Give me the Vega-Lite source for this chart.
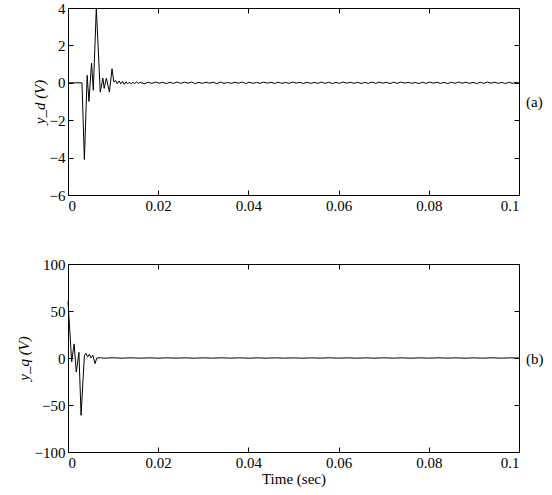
{
  "$schema": "https://vega.github.io/schema/vega-lite/v6.json",
  "background": "white",
  "padding": {"left": 15, "top": 0, "right": 0, "bottom": 0},
  "spacing": 42,
  "config": {
    "font": "Liberation Serif",
    "view": {"stroke": "black", "strokeWidth": 1},
    "axis": {
      "grid": false,
      "domainColor": "black",
      "domainWidth": 1,
      "tickColor": "black",
      "tickWidth": 1,
      "tickSize": -5,
      "labelPadding": 8,
      "labelFont": "Liberation Serif",
      "labelFontSize": 15,
      "labelColor": "black",
      "titleFont": "Liberation Serif",
      "titleFontSize": 15,
      "titleFontWeight": "normal",
      "titleColor": "black"
    }
  },
  "datasets": {
    "d": [
      {"t": 0, "v": 0}, {"t": 0.0031, "v": 0}, {"t": 0.00363, "v": -4.1}, {"t": 0.00425, "v": 0.4},
      {"t": 0.00464, "v": -1.0}, {"t": 0.00522, "v": 1.05}, {"t": 0.00561, "v": -0.4}, {"t": 0.00628, "v": 4.0},
      {"t": 0.00715, "v": -0.5}, {"t": 0.00773, "v": 0.25}, {"t": 0.00802, "v": -0.3}, {"t": 0.00851, "v": 0.25},
      {"t": 0.00918, "v": -0.5}, {"t": 0.00976, "v": 0.75}, {"t": 0.01015, "v": 0.05}, {"t": 0.01054, "v": 0.12},
      {"t": 0.01092, "v": -0.05}, {"t": 0.01131, "v": 0.1}, {"t": 0.0117, "v": -0.06}, {"t": 0.01208, "v": 0.08},
      {"t": 0.01247, "v": -0.08}, {"t": 0.01286, "v": 0.05}, {"t": 0.01324, "v": -0.06}, {"t": 0.01363, "v": 0.04},
      {"t": 0.01402, "v": -0.07}, {"t": 0.0144, "v": 0.03}, {"t": 0.01479, "v": -0.04}, {"t": 0.01518, "v": 0.05},
      {"t": 0.01556, "v": -0.03}, {"t": 0.01595, "v": 0.02},
      {"t": 0.017, "v": -0.05}, {"t": 0.0178, "v": 0.03}, {"t": 0.0186, "v": -0.03}, {"t": 0.0194, "v": 0.04}, {"t": 0.0202, "v": -0.02},
      {"t": 0.021, "v": 0.03}, {"t": 0.0218, "v": -0.04}, {"t": 0.0226, "v": 0.02}, {"t": 0.0234, "v": -0.03}, {"t": 0.0242, "v": 0.04},
      {"t": 0.025, "v": -0.03}, {"t": 0.0258, "v": 0.03}, {"t": 0.0266, "v": -0.02}, {"t": 0.0274, "v": 0.04}, {"t": 0.0282, "v": -0.04},
      {"t": 0.029, "v": 0.02}, {"t": 0.0298, "v": -0.03}, {"t": 0.0306, "v": 0.03}, {"t": 0.0314, "v": -0.02}, {"t": 0.0322, "v": 0.03},
      {"t": 0.033, "v": -0.04}, {"t": 0.0338, "v": 0.04}, {"t": 0.0346, "v": -0.03}, {"t": 0.0354, "v": 0.02}, {"t": 0.0362, "v": -0.03},
      {"t": 0.037, "v": 0.03}, {"t": 0.0378, "v": -0.02}, {"t": 0.0386, "v": 0.04}, {"t": 0.0394, "v": -0.04}, {"t": 0.0402, "v": 0.03},
      {"t": 0.041, "v": -0.03}, {"t": 0.0418, "v": 0.02}, {"t": 0.0426, "v": -0.03}, {"t": 0.0434, "v": 0.04}, {"t": 0.0442, "v": -0.02},
      {"t": 0.045, "v": 0.03}, {"t": 0.0458, "v": -0.04}, {"t": 0.0466, "v": 0.03}, {"t": 0.0474, "v": -0.03}, {"t": 0.0482, "v": 0.02},
      {"t": 0.049, "v": -0.03}, {"t": 0.0498, "v": 0.04}, {"t": 0.0506, "v": -0.02}, {"t": 0.0514, "v": 0.03}, {"t": 0.0522, "v": -0.04},
      {"t": 0.053, "v": 0.03}, {"t": 0.0538, "v": -0.03}, {"t": 0.0546, "v": 0.02}, {"t": 0.0554, "v": -0.03}, {"t": 0.0562, "v": 0.04},
      {"t": 0.057, "v": -0.03}, {"t": 0.0578, "v": 0.03}, {"t": 0.0586, "v": -0.04}, {"t": 0.0594, "v": 0.02}, {"t": 0.0602, "v": -0.03},
      {"t": 0.061, "v": 0.04}, {"t": 0.0618, "v": -0.02}, {"t": 0.0626, "v": 0.03}, {"t": 0.0634, "v": -0.03}, {"t": 0.0642, "v": 0.03},
      {"t": 0.065, "v": -0.04}, {"t": 0.0658, "v": 0.02}, {"t": 0.0666, "v": -0.03}, {"t": 0.0674, "v": 0.04}, {"t": 0.0682, "v": -0.03},
      {"t": 0.069, "v": 0.03}, {"t": 0.0698, "v": -0.02}, {"t": 0.0706, "v": 0.03}, {"t": 0.0714, "v": -0.04}, {"t": 0.0722, "v": 0.03},
      {"t": 0.073, "v": -0.03}, {"t": 0.0738, "v": 0.04}, {"t": 0.0746, "v": -0.02}, {"t": 0.0754, "v": 0.03}, {"t": 0.0762, "v": -0.03},
      {"t": 0.077, "v": 0.02}, {"t": 0.0778, "v": -0.04}, {"t": 0.0786, "v": 0.03}, {"t": 0.0794, "v": -0.03}, {"t": 0.0802, "v": 0.04},
      {"t": 0.081, "v": -0.02}, {"t": 0.0818, "v": 0.03}, {"t": 0.0826, "v": -0.03}, {"t": 0.0834, "v": 0.02}, {"t": 0.0842, "v": -0.04},
      {"t": 0.085, "v": 0.03}, {"t": 0.0858, "v": -0.03}, {"t": 0.0866, "v": 0.04}, {"t": 0.0874, "v": -0.02}, {"t": 0.0882, "v": 0.03},
      {"t": 0.089, "v": -0.03}, {"t": 0.0898, "v": 0.02}, {"t": 0.0906, "v": -0.04}, {"t": 0.0914, "v": 0.03}, {"t": 0.0922, "v": -0.03},
      {"t": 0.093, "v": 0.04}, {"t": 0.0938, "v": -0.02}, {"t": 0.0946, "v": 0.03}, {"t": 0.0954, "v": -0.03}, {"t": 0.0962, "v": 0.02},
      {"t": 0.097, "v": -0.04}, {"t": 0.0978, "v": 0.03}, {"t": 0.0986, "v": -0.03}, {"t": 0.0994, "v": 0.03}, {"t": 0.1, "v": -0.01}
    ],
    "q": [
      {"t": 0, "v": 60}, {"t": 0.00082, "v": -4}, {"t": 0.00135, "v": 15}, {"t": 0.00184, "v": -15},
      {"t": 0.00242, "v": 6}, {"t": 0.0029, "v": -61}, {"t": 0.00363, "v": 2.5}, {"t": 0.00396, "v": 5},
      {"t": 0.00435, "v": 1}, {"t": 0.00474, "v": 4}, {"t": 0.00512, "v": 0}, {"t": 0.00551, "v": 3},
      {"t": 0.006, "v": -6}, {"t": 0.00638, "v": 0}, {"t": 0.00725, "v": 0.3},
      {"t": 0.008, "v": -0.2}, {"t": 0.01, "v": 0.2}, {"t": 0.012, "v": -0.15}, {"t": 0.014, "v": 0.2},
      {"t": 0.016, "v": -0.2}, {"t": 0.018, "v": 0.15}, {"t": 0.02, "v": -0.15}, {"t": 0.022, "v": 0.2},
      {"t": 0.024, "v": -0.15}, {"t": 0.026, "v": 0.15}, {"t": 0.028, "v": -0.2}, {"t": 0.03, "v": 0.15},
      {"t": 0.032, "v": -0.15}, {"t": 0.034, "v": 0.2}, {"t": 0.036, "v": -0.15}, {"t": 0.038, "v": 0.15},
      {"t": 0.04, "v": -0.2}, {"t": 0.042, "v": 0.15}, {"t": 0.044, "v": -0.15}, {"t": 0.046, "v": 0.2},
      {"t": 0.048, "v": -0.15}, {"t": 0.05, "v": 0.15}, {"t": 0.052, "v": -0.2}, {"t": 0.054, "v": 0.15},
      {"t": 0.056, "v": -0.15}, {"t": 0.058, "v": 0.2}, {"t": 0.06, "v": -0.15}, {"t": 0.062, "v": 0.15},
      {"t": 0.064, "v": -0.2}, {"t": 0.066, "v": 0.15}, {"t": 0.068, "v": -0.15}, {"t": 0.07, "v": 0.2},
      {"t": 0.072, "v": -0.15}, {"t": 0.074, "v": 0.15}, {"t": 0.076, "v": -0.2}, {"t": 0.078, "v": 0.15},
      {"t": 0.08, "v": -0.15}, {"t": 0.082, "v": 0.2}, {"t": 0.084, "v": -0.15}, {"t": 0.086, "v": 0.15},
      {"t": 0.088, "v": -0.2}, {"t": 0.09, "v": 0.15}, {"t": 0.092, "v": -0.15}, {"t": 0.094, "v": 0.2},
      {"t": 0.096, "v": -0.15}, {"t": 0.098, "v": 0.15}, {"t": 0.1, "v": 0}
    ]
  },
  "vconcat": [
    {
      "width": 451,
      "height": 187,
      "data": {"name": "d"},
      "layer": [
        {
          "mark": {"type": "line", "color": "black", "strokeWidth": 1},
          "encoding": {
            "x": {"field": "t", "type": "quantitative", "scale": {"domain": [0, 0.1], "nice": false},
                  "axis": {"orient": "bottom", "values": [0, 0.02, 0.04, 0.06, 0.08, 0.1], "format": "~g", "title": null, "labelFont": "Liberation Serif"}},
            "y": {"field": "v", "type": "quantitative", "scale": {"domain": [-6, 4], "nice": false},
                  "axis": {"orient": "left", "values": [-6, -4, -2, 0, 2, 4], "labelFont": "Liberation Serif", "title": "y_d (V)", "titleFontStyle": "italic", "titleFontSize": 15, "titlePadding": 2}}
          }
        },
        {
          "mark": {"type": "line", "strokeOpacity": 0},
          "encoding": {
            "x": {"field": "t", "type": "quantitative", "axis": {"orient": "top", "values": [0, 0.02, 0.04, 0.06, 0.08, 0.1], "labels": false, "title": null}},
            "y": {"field": "v", "type": "quantitative", "axis": {"orient": "right", "values": [-6, -4, -2, 0, 2, 4], "labels": false, "title": "(a)", "titleAngle": 0, "titleAlign": "left", "titleBaseline": "middle", "titlePadding": 6}}
          }
        }
      ],
      "resolve": {"axis": {"x": "independent", "y": "independent"}}
    },
    {
      "width": 451,
      "height": 188,
      "data": {"name": "q"},
      "layer": [
        {
          "mark": {"type": "line", "color": "black", "strokeWidth": 1},
          "encoding": {
            "x": {"field": "t", "type": "quantitative", "scale": {"domain": [0, 0.1], "nice": false},
                  "axis": {"orient": "bottom", "values": [0, 0.02, 0.04, 0.06, 0.08, 0.1], "format": "~g", "labelFont": "Liberation Serif", "title": "Time (sec)", "titlePadding": 1}},
            "y": {"field": "v", "type": "quantitative", "scale": {"domain": [-100, 100], "nice": false},
                  "axis": {"orient": "left", "values": [-100, -50, 0, 50, 100], "labelFont": "Liberation Serif", "title": "y_q (V)", "titleFontStyle": "italic", "titleFontSize": 15, "titlePadding": 3}}
          }
        },
        {
          "mark": {"type": "line", "strokeOpacity": 0},
          "encoding": {
            "x": {"field": "t", "type": "quantitative", "axis": {"orient": "top", "values": [0, 0.02, 0.04, 0.06, 0.08, 0.1], "labels": false, "title": null}},
            "y": {"field": "v", "type": "quantitative", "axis": {"orient": "right", "values": [-100, -50, 0, 50, 100], "labels": false, "title": "(b)", "titleAngle": 0, "titleAlign": "left", "titleBaseline": "middle", "titlePadding": 6}}
          }
        }
      ],
      "resolve": {"axis": {"x": "independent", "y": "independent"}}
    }
  ]
}
